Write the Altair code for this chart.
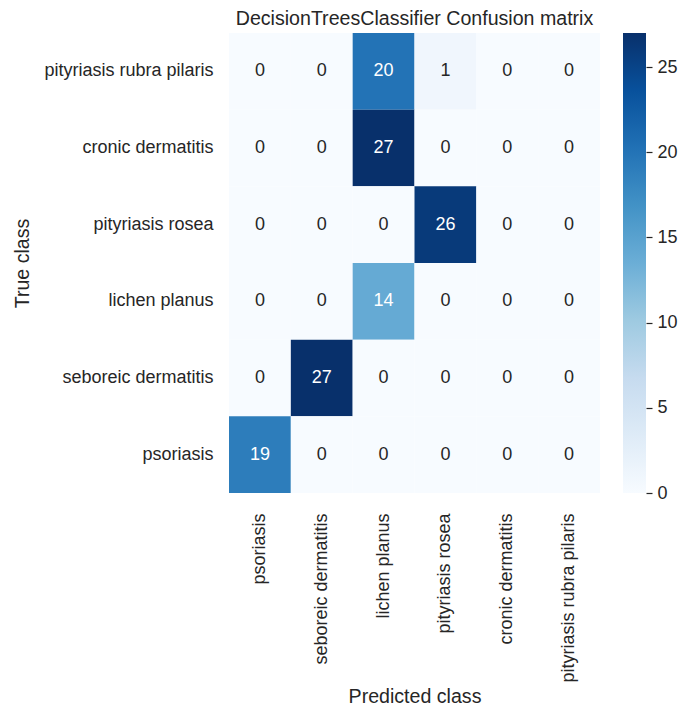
import altair as alt
import pandas as pd

classes_true = ["pityriasis rubra pilaris", "cronic dermatitis", "pityriasis rosea",
                "lichen planus", "seboreic dermatitis", "psoriasis"]
classes_pred = ["psoriasis", "seboreic dermatitis", "lichen planus",
                "pityriasis rosea", "cronic dermatitis", "pityriasis rubra pilaris"]
matrix = [
    [0, 0, 20, 1, 0, 0],
    [0, 0, 27, 0, 0, 0],
    [0, 0, 0, 26, 0, 0],
    [0, 0, 14, 0, 0, 0],
    [0, 27, 0, 0, 0, 0],
    [19, 0, 0, 0, 0, 0],
]
cbar_ticks = [0, 5, 10, 15, 20, 25]
vmin, vmax = 0, 27

BLUES = ["#f7fbff", "#deebf7", "#c6dbef", "#9ecae1", "#6baed6",
         "#4292c6", "#2171b5", "#08519c", "#08306b"]

rows = []
for i, t in enumerate(classes_true):
    for j, p in enumerate(classes_pred):
        rows.append({"true": t, "pred": p, "value": matrix[i][j]})
df = pd.DataFrame(rows)

n = len(BLUES) - 1
dom = [vmin + (vmax - vmin) * k / n for k in range(n + 1)]
color_scale = alt.Scale(domain=dom, range=BLUES, interpolate="rgb")

FONT = "Liberation Sans"
TXT = "#262626"
W, H = 371, 460

base = alt.Chart(df)

heat = base.mark_rect().encode(
    x=alt.X("pred:N", sort=classes_pred,
            scale=alt.Scale(paddingInner=0, paddingOuter=0),
            axis=alt.Axis(title="Predicted class", labelAngle=270, labelPadding=20,
                          ticks=False, domain=False, labelFontSize=18, labelColor=TXT,
                          titleFontSize=19.6, titleColor=TXT, titleFontWeight="normal",
                          titleBaseline="alphabetic", titleY=209, labelLimit=400)),
    y=alt.Y("true:N", sort=classes_true,
            scale=alt.Scale(paddingInner=0, paddingOuter=0),
            axis=alt.Axis(title="True class", labelPadding=16, ticks=False, domain=False,
                          labelFontSize=18, labelColor=TXT, titleFontSize=19.6,
                          titleColor=TXT, titleFontWeight="normal", titleAngle=270,
                          titleBaseline="alphabetic", titleX=-201, titleY=230,
                          titleAlign="center", labelLimit=400)),
    color=alt.Color("value:Q", scale=color_scale, legend=None),
)

text = base.mark_text(fontSize=18, font=FONT).encode(
    x=alt.X("pred:N", sort=classes_pred),
    y=alt.Y("true:N", sort=classes_true),
    text=alt.Text("value:Q"),
    color=alt.condition(alt.datum.value >= 10, alt.value("white"), alt.value(TXT)),
)

cb_df = pd.DataFrame({"lo": [vmin], "hi": [vmax]})
stops = [alt.GradientStop(offset=k / n, color=c) for k, c in enumerate(BLUES)]
cbar = alt.Chart(cb_df).mark_rect(
    fill=alt.LinearGradient(gradient="linear", stops=stops, x1=0, x2=0, y1=1, y2=0)
).encode(
    x=alt.value(394),
    x2=alt.value(417),
    y=alt.Y("lo:Q", scale=alt.Scale(domain=[vmin, vmax], nice=False, zero=False),
            axis=alt.Axis(orient="right", offset=46, values=cbar_ticks, tickSize=6,
                          tickColor=TXT, tickWidth=1.2, domain=False, grid=False,
                          labelFontSize=18, labelColor=TXT, labelPadding=5, title=None)),
    y2="hi:Q",
)

heatmap = alt.layer(heat, text).resolve_scale(color="independent")

chart = alt.layer(heatmap, cbar).resolve_scale(
    y="independent", color="independent"
).resolve_axis(y="independent").properties(
    width=W, height=H,
    title=alt.TitleParams("DecisionTreesClassifier Confusion matrix", fontSize=19.6,
                          font=FONT, color=TXT, fontWeight="normal",
                          offset=3, anchor="middle", frame="group"),
    autosize=alt.AutoSizeParams(type="none"),
    padding={"left": 229, "top": 33, "right": 78, "bottom": 213},
).configure(font=FONT).configure_view(stroke=None).configure_axis(
    labelFont=FONT, titleFont=FONT
)

chart.save("out.html", embed_options={"renderer": "svg", "actions": False})
